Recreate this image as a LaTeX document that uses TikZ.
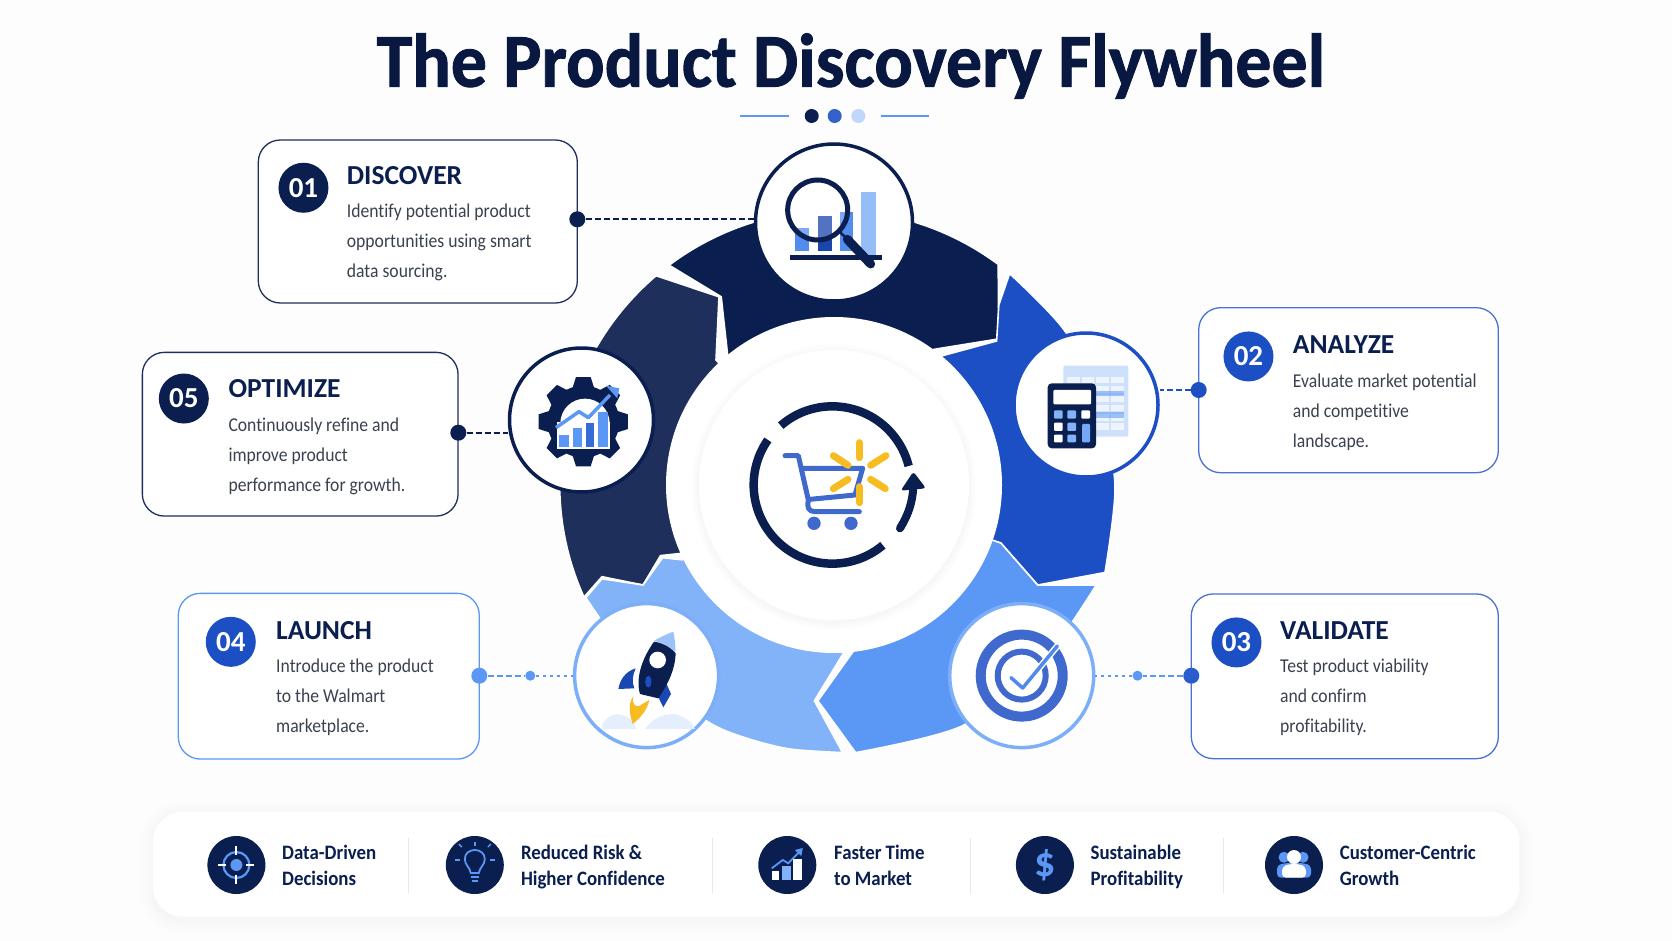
\documentclass[tikz,border=0pt]{standalone}
\usepackage{fontspec}
\usepackage{xcolor}
\usepackage{tikz}
\usetikzlibrary{positioning,shapes}
\defaultfontfeatures{Ligatures=NoCommon}
\setmainfont{Carlito}
\newfontfamily\titlefont[FakeStretch=.945,BoldFeatures={FakeBold=1.2}]{Carlito}
\newfontfamily\bodyfont[FakeStretch=.9]{Carlito}
\newfontfamily\perkfont[FakeStretch=.92]{Carlito}

\definecolor{pagebg}{HTML}{FDFDFE}
\definecolor{navy}{HTML}{0A1E50}
\definecolor{inknavy}{HTML}{081840}
\definecolor{slatenavy}{HTML}{1F2F5C}
\definecolor{royal}{HTML}{1D4FC4}
\definecolor{midblue}{HTML}{5B97F5}
\definecolor{skyblue}{HTML}{82B3F8}
\definecolor{paleblue}{HTML}{CFE0FA}
\definecolor{bodygrey}{HTML}{3A4250}
\definecolor{sunyellow}{HTML}{F7BC22}

\tikzset{
  zoomed/.style={shift={#1},x=.3333pt,y=-.3333pt},
  segment/.style={fill=#1,draw=white,line width=1.6pt,line join=miter},
  cardbox/.style={draw=#1,fill=white,line width=1.3pt,rounded corners=22pt,inner sep=0pt},
  badge/.style={circle,fill=#1,text=white,inner sep=0pt,minimum size=50pt,font=\fontsize{29}{29}\selectfont\bfseries},
  headtxt/.style={anchor=base west,inner sep=0pt,text=navy,font=\fontsize{27.5}{27.5}\selectfont\bfseries},
  bodytxt/.style={anchor=north west,inner sep=0pt,align=left,text=bodygrey,font=\bodyfont\fontsize{19.6}{30}\selectfont},
  iconring/.style={circle,draw=#1,fill=white,line width=3.5pt,inner sep=0pt},
  linkdot/.style={circle,fill=#1,inner sep=0pt,minimum size=16pt},
  linkline/.style={draw=#1,line width=1.7pt,dash pattern=on 6pt off 3pt},
  linkdots/.style={draw=midblue,line width=1.9pt,dash pattern=on 3pt off 4pt},
  minidot/.style={circle,fill=midblue,inner sep=0pt,minimum size=10pt},
  perktxt/.style={anchor=north west,inner sep=0pt,align=left,text=navy,font=\perkfont\fontsize{20.5}{25.7}\selectfont\bfseries},
  perkdisc/.style={circle,fill=navy,inner sep=0pt,minimum size=58pt},
  sepline/.style={draw=black!9,line width=1pt},
  softline/.style={draw=navy,opacity=.005,line width=#1}
}

\begin{document}
\begin{tikzpicture}[x=1pt,y=-1pt]
  \fill[pagebg] (0,0) rectangle (1672,941);
  \useasboundingbox (0,0) rectangle (1672,941);

  % title
  \node[anchor=base,inner sep=0pt,text=inknavy,font=\titlefont\fontsize{76}{76}\selectfont\bfseries] (title) at (851,86.7) {The Product Discovery Flywheel};
  \node[circle,fill=navy,inner sep=0pt,minimum size=14pt] (tdot1) at (811.7,116) {};
  \node[circle,fill=royal!90!white,inner sep=0pt,minimum size=14pt] (tdot2) at (834.7,116) {};
  \node[circle,fill=paleblue!80!skyblue,inner sep=0pt,minimum size=14pt] (tdot3) at (858.3,116) {};
  \coordinate (tl1) at (740.3,116);
  \coordinate (tl2) at (788.8,116);
  \coordinate (tr1) at (881.2,116);
  \coordinate (tr2) at (929,116);
  \draw[midblue,line width=1.5pt] (tl1) -- (tl2);
  \draw[midblue,line width=1.5pt] (tr1) -- (tr2);

  % ring segments
  \path[segment=slatenavy] (656.1,275.7) arc[start angle=-130.4,end angle=-204.3,radius=274] -- (602,576.7) -- (643,585) -- (660.5,555.6) -- (680,553.5) -- (834,485) -- (716,360) -- (719,296.8) -- cycle;
  \path[segment=navy] (669.1,265.2) arc[start angle=-126.9,end angle=-53.4,radius=275] -- (998.8,338.9) -- (933.7,349.4) -- (834,485) -- (727.7,355.7) -- (721.2,296.8) -- cycle;
  \path[segment=midblue] plot[smooth] coordinates {(1096.3,585) (1040,665) (961.9,726) (855.6,752.6)} -- (817.9,700.8) -- (853.5,651) -- (834,485) -- (1001,543) -- (1037.8,585) -- cycle;
  \path[segment=royal] plot[smooth] coordinates {(1009.6,273.6) (1066,332.6) (1100,410) (1115,486) (1105,572.5)} -- (1037.8,585) -- (1001,543) -- (834,485) -- (942.4,355.7) -- (996.6,341) -- (998.8,305) -- cycle;
  \path[segment=skyblue] plot[smooth] coordinates {(585.9,597.7) (643,676) (708.2,722) (746,738) (790,749) (842.6,752.6)} -- (814.4,700.8) -- (843.9,652.4) -- (834,485) -- (682.2,559.8) -- (662.6,557.7) -- (643,585) -- (601.9,578.8) -- cycle;

  % hub
  \node[circle,fill=white,inner sep=0pt,minimum size=336pt] (hub) at (834,485) {};
  \foreach \s in {2,4,...,16} \draw[softline=\s pt] (834,487) circle (135);
  \node[circle,fill=white,inner sep=0pt,minimum size=270pt] (hubin) at (834,485) {};
  \begin{scope}[zoomed={(740,390)}]
    \draw[navy,line width=8.5pt] (277,285) ++(-131:236) arc[start angle=-131,end angle=-14,radius=236];
    \draw[navy,line width=8.5pt] (277,285) ++(-145:236) arc[start angle=-145,end angle=-310,radius=236];
    \draw[navy,line width=8pt,line cap=round] (480,415) .. controls (505,375) and (518,335) .. (520,290);
    \fill[navy,rounded corners=3pt] (520,245) -- (558,295) -- (482,302) -- cycle;
    \draw[royal!85!white,line width=5pt,line cap=round,line join=round] (135,197) -- (175,197) -- (205,330) .. controls (200,350) and (205,365) .. (225,365) -- (358,365);
    \draw[royal!85!white,line width=5pt,line join=round] (185,235) -- (368,235) -- (345,315) -- (210,328);
    \fill[royal!85!white] (222,400) circle (20);
    \fill[royal!85!white] (333,400) circle (20);
    \draw[sunyellow,line width=7pt,line cap=round] (358,158) -- (358,203);
    \draw[sunyellow,line width=7pt,line cap=round] (392,226) -- (438,197);
    \draw[sunyellow,line width=7pt,line cap=round] (392,268) -- (436,296);
    \draw[sunyellow,line width=7pt,line cap=round] (358,290) -- (358,338);
    \draw[sunyellow,line width=7pt,line cap=round] (324,268) -- (280,296);
    \draw[sunyellow,line width=7pt,line cap=round] (324,226) -- (280,197);
  \end{scope}

  % icon circles
  \node[iconring=navy,minimum size=157pt] (icdisc) at (834,222.5) {};
  \node[iconring=royal,minimum size=144pt] (icanal) at (1086,405) {};
  \node[iconring=skyblue!85!midblue,minimum size=144pt] (icvali) at (1021.7,675.6) {};
  \node[iconring=skyblue!85!midblue,minimum size=144pt] (iclaun) at (646.6,675.6) {};
  \node[iconring=navy,minimum size=144pt] (icopti) at (581.5,420) {};

  % cards
  \node[cardbox=slatenavy,minimum width=319pt,minimum height=163pt] (carddisc) at (417.8,221.5) {};
  \node[cardbox=royal!80!white,minimum width=299.6pt,minimum height=165pt] (cardanal) at (1348.5,390.2) {};
  \node[cardbox=royal!80!white,minimum width=307pt,minimum height=164.7pt] (cardvali) at (1344.8,676.3) {};
  \node[cardbox=midblue,minimum width=301pt,minimum height=165.7pt] (cardlaun) at (328.8,676.2) {};
  \node[cardbox=slatenavy,minimum width=315.7pt,minimum height=163.7pt] (cardopti) at (300.2,434.2) {};

  \node[badge=navy,below right=30.6pt and 28pt of carddisc.north west] (num1) {01};
  \node[badge=royal,below right=31.6pt and 32.6pt of cardanal.north west] (num2) {02};
  \node[badge=royal,below right=31.3pt and 28pt of cardvali.north west] (num3) {03};
  \node[badge=royal,below right=31.3pt and 35.3pt of cardlaun.north west] (num4) {04};
  \node[badge=navy,below right=29pt and 24.3pt of cardopti.north west] (num5) {05};

  \node[headtxt] (headdisc) at (346.7,185) {DISCOVER};
  \node[bodytxt] (textdisc) at (346.7,204) {Identify potential product\\opportunities using smart\\data sourcing.};
  \node[headtxt] (headanal) at (1292.7,353.3) {ANALYZE};
  \node[bodytxt] (textanal) at (1292.7,373.4) {Evaluate market potential\\and competitive\\landscape.};
  \node[headtxt] (headvali) at (1280,639) {VALIDATE};
  \node[bodytxt] (textvali) at (1280,659) {Test product viability\\and confirm\\profitability.};
  \node[headtxt] (headlaun) at (276,639.3) {LAUNCH};
  \node[bodytxt] (textlaun) at (276,658.4) {Introduce the product\\to the Walmart\\marketplace.};
  \node[headtxt] (headopti) at (228.3,397.3) {OPTIMIZE};
  \node[bodytxt] (textopti) at (228.3,417.4) {Continuously refine and\\improve product\\performance for growth.};

  % links
  \node[linkdot=navy] (dotdisc) at (577.3,219.3) {};
  \node[linkdot=royal] (dotanal) at (1198.7,390) {};
  \node[linkdot=royal!80!midblue] (dotvali) at (1191.3,675.7) {};
  \node[linkdot=midblue] (dotlaun) at (479.3,675.7) {};
  \node[linkdot=navy] (dotopti) at (458.3,432.7) {};
  \node[minidot] (midvali) at (1137.5,675.7) {};
  \node[minidot] (midlaun) at (530.3,675.7) {};
  \draw[linkline=navy] (dotdisc) -- (dotdisc -| icdisc.west);
  \draw[linkline=royal] (dotanal) -- (dotanal -| icanal.east);
  \draw[linkline=midblue] (dotvali) -- (midvali);
  \draw[linkdots] (midvali) -- (midvali -| icvali.east);
  \draw[linkline=midblue] (dotlaun) -- (midlaun);
  \draw[linkdots] (midlaun) -- (midlaun -| iclaun.west);
  \draw[linkline=navy] (dotopti) -- (dotopti -| icopti.west);

  % magnifier and bars
  \begin{scope}[zoomed={(770,160)}]
    \fill[midblue!85!royal] (75,205) rectangle (118,272);
    \fill[royal!80!navy] (145,167) rectangle (185,272);
    \fill[midblue!85!royal] (210,155) rectangle (250,272);
    \fill[skyblue!85!white] (272,97) rectangle (317,285);
    \fill[navy] (60,285) rectangle (335,300);
    \draw[navy,line width=5pt,fill=white,fill opacity=.25] (143,150) circle (90);
    \draw[navy,line width=2.5pt] (205,212) -- (235,240);
    \draw[navy,line width=9pt,line cap=round] (232,238) -- (302,312);
  \end{scope}

  % calculator and sheet
  \begin{scope}[zoomed={(1030,350)}]
    \fill[paleblue,rounded corners=2pt] (100,47) rectangle (295,260);
    \foreach \y in {80,108,136,164,192,220}
      \foreach \x in {112,155,198,243}
        \fill[white,opacity=.65] (\x,\y) rectangle +(38,20);
    \fill[midblue,opacity=.55] (198,122) rectangle (282,138);
    \fill[midblue,opacity=.55] (198,186) rectangle (282,204);
    \fill[navy,rounded corners=4pt] (53,100) rectangle (198,295);
    \fill[white,rounded corners=1pt] (70,120) rectangle (183,163);
    \fill[skyblue,rounded corners=1pt] (72,181) rectangle (98,206);
    \fill[skyblue,rounded corners=1pt] (112,181) rectangle (138,206);
    \fill[white,rounded corners=1pt] (154,181) rectangle (180,206);
    \fill[white,rounded corners=1pt] (72,218) rectangle (98,243);
    \fill[skyblue,rounded corners=1pt] (112,218) rectangle (138,243);
    \fill[midblue!85!white,rounded corners=1pt] (156,222) rectangle (180,277);
    \fill[white,rounded corners=1pt] (72,254) rectangle (98,277);
    \fill[skyblue,rounded corners=1pt] (112,254) rectangle (138,277);
  \end{scope}

  % gear with chart
  \begin{scope}[zoomed={(530,365)}]
    \foreach \a in {0,45,...,315}
      \fill[navy,rotate around={\a:(160,170)}] (138,36) -- (182,36) -- (196,80) -- (124,80) -- cycle;
    \fill[navy] (160,170) circle (108);
    \fill[white] (165,175) circle (74);
    \fill[white] (82,170) rectangle (240,252);
    \fill[midblue] (88,210) rectangle (118,247);
    \fill[midblue] (128,188) rectangle (155,247);
    \fill[royal!60!midblue] (167,173) rectangle (193,247);
    \fill[midblue] (205,140) rectangle (233,247);
    \draw[midblue,line width=3.5pt,line join=round] (78,188) -- (147,140) -- (175,158) -- (240,90);
    \fill[midblue] (228,62) -- (268,70) -- (262,100) -- cycle;
  \end{scope}

  % rocket
  \begin{scope}[zoomed={(590,620)}]
    \fill[paleblue!55!white] (35,327) .. controls (35,300) and (70,275) .. (95,285) .. controls (120,290) and (135,310) .. (138,327) -- cycle;
    \fill[paleblue!55!white] (165,327) .. controls (185,300) and (215,280) .. (255,282) .. controls (285,290) and (310,310) .. (315,327) -- cycle;
    \fill[sunyellow] (130,228) .. controls (125,250) and (135,262) .. (148,258) .. controls (160,250) and (170,245) .. (178,240) .. controls (172,270) and (150,295) .. (128,312) .. controls (120,285) and (112,255) .. (130,228);
    \fill[royal!85!navy] (137,145) .. controls (105,155) and (90,180) .. (85,207) -- (133,205) .. controls (125,185) and (128,165) .. (137,145);
    \fill[royal!85!navy] (228,188) -- (243,222) -- (220,262) -- (203,228) -- cycle;
    \fill[skyblue!80!white] (192,62) .. controls (215,50) and (235,40) .. (250,35) .. controls (255,60) and (257,80) .. (256,97) .. controls (240,80) and (215,68) .. (192,62);
    \fill[navy] (192,65) .. controls (215,68) and (240,80) .. (257,100) .. controls (255,150) and (235,190) .. (205,235) -- (150,222) .. controls (135,170) and (160,110) .. (192,65);
    \fill[royal] (175,185) ellipse (9 and 18);
    \fill[white] (203,120) circle (25);
  \end{scope}

  % target
  \draw[royal!85!white,line width=10pt] (icvali) circle (41);
  \draw[royal!85!white,line width=6pt] (icvali) circle (24);
  \begin{scope}[zoomed={(980,640)}]
    \draw[white,line width=6.5pt,line cap=round,line join=round] (93,113) -- (128,144) -- (232,18);
    \draw[midblue!80!royal,line width=3.5pt,line cap=round,line join=round] (93,113) -- (128,144) -- (232,18);
  \end{scope}

  % strip at the bottom
  \foreach \s in {3,7,...,27} \draw[softline=\s pt,rounded corners=30pt] (153,814) rectangle (1519.5,920);
  \node[fill=white,rounded corners=30pt,inner sep=0pt,minimum width=1366.5pt,minimum height=105pt] (strip) at (836.2,864.2) {};
  \coordinate (sepa1) at (408.3,838);
  \coordinate (sepb1) at (408.3,893);
  \coordinate (sepa2) at (712.3,838);
  \coordinate (sepb2) at (712.3,893);
  \coordinate (sepa3) at (970.8,838);
  \coordinate (sepb3) at (970.8,893);
  \coordinate (sepa4) at (1223,838);
  \coordinate (sepb4) at (1223,893);
  \draw[sepline] (sepa1) -- (sepb1);
  \draw[sepline] (sepa2) -- (sepb2);
  \draw[sepline] (sepa3) -- (sepb3);
  \draw[sepline] (sepa4) -- (sepb4);

  \node[perkdisc] (perk1) at (236.4,865) {};
  \node[perkdisc] (perk2) at (474.8,865) {};
  \node[perkdisc] (perk3) at (787.3,865) {};
  \node[perkdisc,text=midblue,font=\fontsize{42}{42}\selectfont\bfseries] (perk4) at (1044.9,865) {\$};
  \node[perkdisc] (perk5) at (1294,865) {};

  \node[perktxt] (perktxt1) at (282,844.9) {Data-Driven\\Decisions};
  \node[perktxt] (perktxt2) at (520.8,844.9) {Reduced Risk \&\\Higher Confidence};
  \node[perktxt] (perktxt3) at (834,844.9) {Faster Time\\to Market};
  \node[perktxt] (perktxt4) at (1090.4,844.9) {Sustainable\\Profitability};
  \node[perktxt] (perktxt5) at (1339.6,844.9) {Customer-Centric\\Growth};

  \begin{scope}[shift={(236.4,865)}]
    \draw[midblue,line width=2.2pt] (0,0) circle (13);
    \fill[midblue] (0,0) circle (6);
    \draw[white,line width=2pt] (0,-19) -- (0,-10);
    \draw[white,line width=2pt] (0,10) -- (0,19);
    \draw[white,line width=2pt] (-18,0) -- (-10,0);
    \draw[white,line width=2pt] (10,0) -- (18,0);
  \end{scope}
  \begin{scope}[shift={(474.8,865)}]
    \draw[midblue,line width=1.8pt] (-4,8) .. controls (-5,2) and (-10,0) .. (-10,-6) .. controls (-10,-18) and (10,-18) .. (10,-6) .. controls (10,0) and (5,2) .. (4,8) -- cycle;
    \draw[midblue,line width=2pt] (-4,12) -- (4,12);
    \draw[midblue,line width=2pt] (-3,16) -- (3,16);
    \draw[midblue,line width=1.5pt] (0,-23) -- (0,-19);
    \draw[midblue,line width=1.5pt] (-13,-18) -- (-16,-21);
    \draw[midblue,line width=1.5pt] (13,-18) -- (16,-21);
    \draw[midblue,line width=1.5pt] (-15,-5) -- (-20,-5);
    \draw[midblue,line width=1.5pt] (15,-5) -- (20,-5);
  \end{scope}
  \begin{scope}[shift={(787.3,865)}]
    \fill[white] (-15.6,6) rectangle (-8,15);
    \fill[skyblue] (-5.4,.7) rectangle (3.6,15);
    \fill[white] (5.8,-5.7) rectangle (14.7,15);
    \draw[midblue,line width=1.8pt] (-15.6,3.3) -- (-4.5,-5) -- (.9,-1.7) -- (12,-13);
    \fill[midblue] (15.5,-17) -- (14,-9) -- (7.5,-15) -- cycle;
  \end{scope}
  \begin{scope}[shift={(1294,865)}]
    \fill[midblue] (-10,-7.7) circle (5.5);
    \fill[midblue] (9,-7.7) circle (5.5);
    \fill[midblue,rounded corners=4pt] (-17,12.7) -- (-17,0) -- (-8,-2) -- (8,-2) -- (17,0) -- (17,12.7) -- cycle;
    \fill[white] (0,-8) circle (7);
    \fill[white,rounded corners=4pt] (-12,12.7) -- (-12,1.7) -- (-5,-1) -- (5,-1) -- (12,1.7) -- (12,12.7) -- cycle;
  \end{scope}
\end{tikzpicture}
\end{document}
